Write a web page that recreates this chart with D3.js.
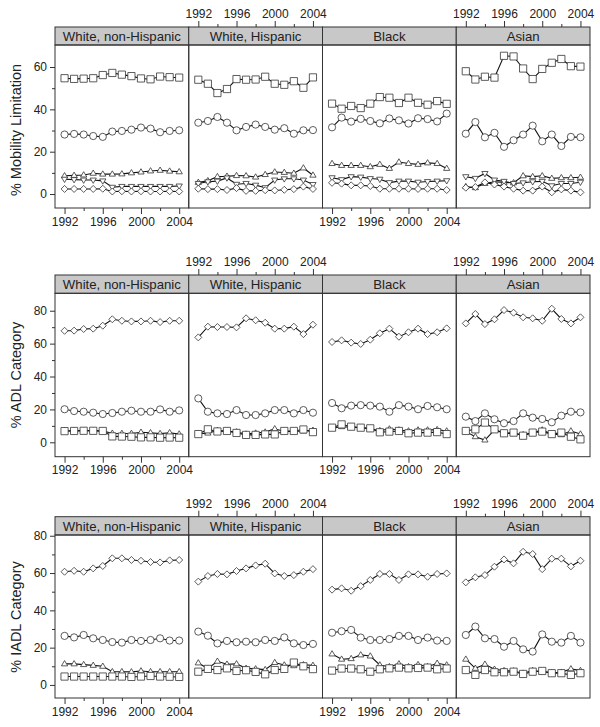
<!DOCTYPE html>
<html><head><meta charset="utf-8">
<script src="https://cdn.jsdelivr.net/npm/d3@7"></script>
<style>body{margin:0;background:#fff}svg{display:block;font-family:"Liberation Sans",Arial,sans-serif}</style>
</head><body><svg id="c" width="600" height="727"></svg>
<script>
const years = [1992,1993,1994,1995,1996,1997,1998,1999,2000,2001,2002,2003,2004];
const races = ["White, non-Hispanic","White, Hispanic","Black","Asian"];
const xMajor = [1992,1996,2000,2004];
const xMinor = [1994,1998,2002];
const yLabels = ["% Mobility Limitation","% ADL Category","% IADL Category"];
const yMajor = [[0,20,40,60],[0,20,40,60,80],[0,20,40,60,80]];
const yMinor = [[10,30,50],[10,30,50,70],[10,30,50,70]];

// Mobility limitation, per race (WNH, WH, Black, Asian)
const mobSquare = [
 [54.7,54.4,54.5,54.7,56.2,57.2,56.4,55.7,54.6,54.2,55.5,55.2,55.0],
 [54.0,52.1,47.7,49.6,54.3,54.0,54.1,55.4,52.1,51.6,53.3,50.2,55.1],
 [42.7,40.3,41.6,40.6,42.7,45.8,45.5,43.0,45.5,43.1,42.2,43.9,42.6],
 [58.0,54.1,55.4,55.0,65.3,65.0,59.3,54.3,59.1,62.0,63.8,60.4,60.2]];
const mobCircle = [
 [28.1,28.4,28.1,27.4,27.0,29.5,29.8,30.4,31.4,30.9,29.2,29.8,30.1],
 [33.7,34.5,36.4,33.7,30.1,31.7,32.8,31.7,30.4,31.1,28.5,30.1,30.2],
 [31.5,36.1,34.2,35.5,34.5,33.4,35.7,34.8,33.3,35.8,35.4,34.3,38.0],
 [28.5,34.0,26.8,28.9,22.3,25.4,28.1,32.3,24.9,28.1,22.7,27.0,26.8]];
const mobTriUp = [
 [8.6,8.8,9.0,9.8,9.4,9.4,9.5,10.0,10.4,10.9,11.2,10.8,10.5],
 [5.5,6.3,8.2,8.4,8.7,8.6,8.0,9.2,10.4,10.2,9.8,12.3,8.9],
 [14.4,13.5,13.5,13.5,12.9,14.0,12.1,15.1,14.4,14.0,14.7,14.4,12.1],
 [3.5,3.0,5.0,5.8,5.5,5.3,8.6,8.2,8.6,7.4,7.7,7.7,7.9]];
const mobTriDown = [
 [7.0,6.8,6.6,6.6,6.2,3.2,3.6,3.6,3.6,3.6,3.6,3.6,3.8],
 [5.0,5.8,6.1,7.6,4.6,5.0,4.2,3.0,6.6,7.2,7.2,6.6,4.5],
 [7.7,6.8,8.2,8.0,7.3,7.0,5.4,6.1,6.1,5.6,5.9,6.1,6.3],
 [8.2,7.4,9.7,6.6,6.0,5.0,5.3,5.8,6.0,3.9,5.0,5.0,5.6]];
const mobDiamond = [
 [2.4,2.4,2.4,2.4,2.5,1.2,1.3,1.2,1.3,1.2,1.2,1.3,1.2],
 [2.5,2.3,2.3,1.9,2.8,1.5,1.5,1.8,1.7,2.0,2.3,3.5,2.4],
 [5.3,4.9,4.1,4.1,3.8,2.5,2.5,2.5,2.5,2.4,2.5,2.5,1.9],
 [3.0,3.3,5.5,4.5,3.5,2.5,1.6,1.6,3.5,0.8,2.2,1.6,0.8]];

// ADL category
const adlDiamond = [
 [67.8,67.9,68.9,69.1,70.9,74.8,73.9,73.5,73.5,73.9,73.1,73.9,73.9],
 [63.8,70.3,70.1,70.1,69.9,75.4,74.2,72.7,69.1,69.1,70.3,65.8,71.5],
 [61.0,62.0,60.6,59.8,62.4,66.3,69.1,64.2,66.9,69.1,65.8,66.9,69.3],
 [72.3,78.0,71.9,74.8,80.4,78.8,76.0,75.4,73.9,81.2,75.0,72.3,76.0]];
const adlCircle = [
 [20.1,19.0,18.6,18.0,17.2,17.8,18.6,19.2,18.6,18.6,20.0,18.6,19.4],
 [26.7,18.6,17.6,17.2,19.6,16.6,16.6,17.6,19.6,19.6,17.6,19.6,18.0],
 [23.9,20.7,22.3,22.6,22.3,21.7,18.6,22.6,21.7,20.1,22.1,21.3,20.1],
 [15.6,12.9,17.6,14.0,11.6,12.9,17.6,15.0,14.2,12.2,16.2,18.6,18.2]];
const adlTriUp = [
 [7.0,7.0,7.1,7.1,6.8,5.5,5.4,5.4,6.1,5.8,5.3,5.8,5.0],
 [5.2,5.6,7.2,6.8,6.3,5.0,5.6,6.2,8.2,6.6,6.6,6.9,7.3],
 [8.5,9.5,9.2,8.9,8.1,7.1,8.1,7.5,6.9,7.5,7.5,7.7,6.9],
 [6.5,3.4,1.4,7.5,5.5,5.3,4.6,5.9,7.5,5.0,4.6,6.9,5.0]];
const adlSquare = [
 [6.8,6.9,7.0,7.0,6.9,3.6,3.5,3.4,3.0,3.0,2.8,2.9,2.8],
 [5.0,7.9,6.6,6.9,5.7,4.5,4.5,4.8,4.8,6.9,6.9,7.8,6.2],
 [8.9,10.9,9.5,8.9,8.5,6.1,6.5,6.9,5.5,5.9,5.9,6.2,5.0],
 [6.9,7.9,12.0,7.9,5.5,5.9,4.0,5.9,6.5,5.0,5.9,3.4,1.8]];

// IADL category
const iadlDiamond = [
 [60.7,61.2,60.7,62.5,63.8,67.9,67.9,67.0,66.6,65.9,65.7,66.8,67.0],
 [55.4,58.4,59.5,59.3,61.1,62.5,64.1,65.0,59.8,58.4,58.9,60.7,62.1],
 [51.1,51.8,50.5,53.0,56.3,59.5,59.5,56.3,59.3,59.3,58.0,59.5,59.8],
 [55.0,57.7,58.9,63.4,67.3,65.2,71.4,70.2,62.1,67.7,67.7,63.6,66.6]];
const iadlCircle = [
 [26.3,25.5,26.8,25.0,24.1,23.0,22.7,24.1,23.6,24.1,25.0,23.8,23.8],
 [28.6,26.4,22.3,23.6,22.9,23.2,22.9,24.1,23.6,25.5,22.3,21.4,22.0],
 [28.0,28.8,29.5,25.4,24.1,24.1,24.6,26.3,26.3,24.1,25.4,23.8,23.6],
 [26.8,31.3,25.0,24.6,20.5,23.6,19.1,17.9,27.1,23.2,22.7,26.3,22.7]];
const iadlTriUp = [
 [11.3,11.3,10.9,10.5,10.0,7.1,7.1,7.0,7.5,7.1,7.1,7.1,7.1],
 [11.8,8.8,12.7,11.1,11.3,8.9,8.6,8.2,12.0,10.7,10.3,10.8,10.5],
 [16.6,13.8,14.1,16.1,15.5,10.7,9.8,11.3,9.8,10.9,9.8,11.6,10.7],
 [13.8,8.9,11.1,8.4,7.7,7.5,6.3,7.7,7.1,6.6,6.8,8.6,7.7]];
const iadlSquare = [
 [4.5,4.5,4.5,4.5,4.5,4.5,4.5,4.3,4.5,4.8,4.5,4.4,4.3],
 [7.1,8.6,8.0,8.9,7.5,7.9,7.0,5.7,8.0,8.6,12.0,10.0,8.5],
 [7.7,8.8,8.8,8.4,7.1,8.4,8.9,9.3,8.9,9.1,9.3,8.4,8.8],
 [8.0,5.4,8.0,6.8,6.8,7.1,5.9,7.1,7.5,6.3,6.3,5.4,6.3]];

// ---------- layout ----------
const left = 55, right = 590;
const pw = (right - left) / 4;
const rows = [
  {stripTop: 27, stripH: 18, bottom: 208, dom: [-6.6, 70.4], labelY: 130,
   series: [[mobSquare,"square"],[mobCircle,"circle"],[mobTriUp,"triUp"],[mobTriDown,"triDown"],[mobDiamond,"diamond"]]},
  {stripTop: 275, stripH: 18.3, bottom: 456.7, dom: [-8.75, 90.6], labelY: 375,
   series: [[adlDiamond,"diamond"],[adlCircle,"circle"],[adlTriUp,"triUp"],[adlSquare,"square"]]},
  {stripTop: 516.7, stripH: 18.3, bottom: 698, dom: [-7.0, 80.4], labelY: 617,
   series: [[iadlDiamond,"diamond"],[iadlCircle,"circle"],[iadlTriUp,"triUp"],[iadlSquare,"square"]]}
];

const svg = d3.select("#c");
const ink = "#222";
const frame = "#333";

function markerPath(type){
  const p = d3.path();
  if(type==="square"){ const s=3.6; p.rect(-s,-s,2*s,2*s); }
  else if(type==="circle"){ p.arc(0,0,3.6,0,2*Math.PI); }
  else if(type==="diamond"){ const s=3.5; p.moveTo(0,-s);p.lineTo(s,0);p.lineTo(0,s);p.lineTo(-s,0);p.closePath(); }
  else if(type==="triUp"){ const s=3.3; p.moveTo(0,-s);p.lineTo(s*0.95,s*0.6);p.lineTo(-s*0.95,s*0.6);p.closePath(); }
  else if(type==="triDown"){ const s=3.3; p.moveTo(0,s);p.lineTo(s*0.95,-s*0.6);p.lineTo(-s*0.95,-s*0.6);p.closePath(); }
  return p.toString();
}

rows.forEach((row, ri) => {
  const top = row.stripTop + row.stripH;
  const y = d3.scaleLinear().domain(row.dom).range([row.bottom, top]);
  const g = svg.append("g");

  const yAx = g.append("g").attr("transform", `translate(${left},0)`);
  yAx.call(d3.axisLeft(y).tickValues(yMajor[ri]).tickSize(5).tickPadding(3))
     .call(a => a.select(".domain").remove());
  yAx.append("g").call(d3.axisLeft(y).tickValues(yMinor[ri]).tickSize(3).tickFormat(""))
     .call(a => a.select(".domain").remove());
  yAx.selectAll("text").attr("font-size", 12).attr("fill", ink);
  yAx.selectAll("line").attr("stroke", frame);

  g.append("text").attr("transform", `translate(16,${row.labelY}) rotate(-90)`)
    .attr("text-anchor", "middle").attr("dominant-baseline", "central")
    .attr("font-size", 14.5).attr("fill", ink).text(yLabels[ri]);

  races.forEach((race, ci) => {
    const x0 = left + ci * pw;
    const x = d3.scaleLinear().domain([1991, 2005]).range([x0, x0 + pw]);
    const pg = g.append("g");

    pg.append("rect").attr("x", x0).attr("y", row.stripTop).attr("width", pw).attr("height", row.stripH)
      .attr("fill", "#c8c8c8").attr("stroke", frame).attr("stroke-width", 1);
    pg.append("text").attr("x", x0 + pw/2).attr("y", row.stripTop + row.stripH/2 + 0.5)
      .attr("text-anchor", "middle").attr("dominant-baseline", "central")
      .attr("font-size", 13.2).attr("fill", ink).text(race);

    pg.append("rect").attr("x", x0).attr("y", top).attr("width", pw).attr("height", row.bottom - top)
      .attr("fill", "none").attr("stroke", frame).attr("stroke-width", 1);

    const onBottom = (ci % 2 === 0);
    const ax = pg.append("g").attr("transform", `translate(0,${onBottom ? row.bottom : row.stripTop})`);
    const mk = onBottom ? d3.axisBottom : d3.axisTop;
    ax.call(mk(x).tickValues(xMajor).tickSize(6).tickPadding(3).tickFormat(d3.format("d")))
      .call(a => a.select(".domain").remove());
    ax.append("g").call(mk(x).tickValues(xMinor).tickSize(3).tickFormat(""))
      .call(a => a.select(".domain").remove());
    ax.selectAll("text").attr("font-size", 12).attr("fill", ink);
    ax.selectAll("line").attr("stroke", frame);

    const line = d3.line().x((d, i) => x(years[i])).y(d => y(d));
    row.series.forEach(([arr, type]) => {
      pg.append("path").datum(arr[ci]).attr("d", line)
        .attr("fill", "none").attr("stroke", "#111").attr("stroke-width", 1.1);
    });
    row.series.forEach(([arr, type]) => {
      pg.append("g").selectAll("path").data(arr[ci]).join("path")
        .attr("transform", (d, i) => `translate(${x(years[i])},${y(d)})`)
        .attr("d", markerPath(type))
        .attr("fill", "#fff").attr("stroke", "#333").attr("stroke-width", 0.8);
    });
  });
});
</script></body></html>
